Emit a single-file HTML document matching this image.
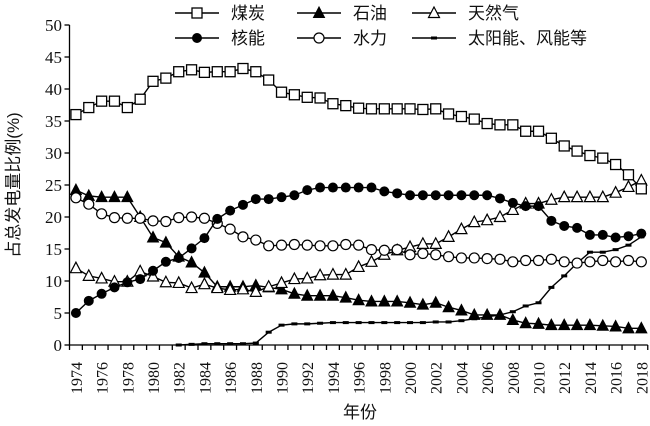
<!DOCTYPE html>
<html><head><meta charset="utf-8"><style>
body{margin:0;background:#fff}
svg{display:block}
</style></head><body>
<svg id="c" width="650" height="426" viewBox="0 0 650 426"></svg>
<script>
const years=[];for(let y=1974;y<=2018;y++)years.push(y);
const coal=[36.0,37.1,38.1,38.1,37.1,38.4,41.2,41.7,42.7,43.0,42.6,42.7,42.7,43.2,42.7,41.4,39.5,39.1,38.7,38.6,37.7,37.4,37.0,36.9,36.9,36.9,36.9,36.8,36.9,36.1,35.7,35.3,34.6,34.4,34.4,33.4,33.4,32.3,31.1,30.3,29.6,29.2,28.2,26.6,24.4];
const oil=[24.2,23.3,23.1,23.1,23.1,20.0,16.8,16.0,13.8,12.9,11.3,9.1,9.1,9.1,9.3,9.0,8.7,8.0,7.7,7.7,7.7,7.4,7.0,6.8,6.8,6.8,6.6,6.3,6.6,5.9,5.4,4.7,4.7,4.7,3.9,3.4,3.3,3.1,3.1,3.1,3.1,3.0,2.9,2.6,2.6];
const gas=[12.0,10.8,10.4,9.9,9.9,11.5,10.7,9.8,9.7,8.9,9.5,8.9,8.6,8.7,8.3,9.1,9.7,10.3,10.4,10.9,11.0,11.0,12.2,13.0,14.1,14.8,15.3,15.8,15.8,16.9,18.1,19.2,19.5,20.0,21.1,22.1,22.1,22.7,23.1,23.1,23.1,23.1,23.8,24.7,25.7];
const nuclear=[5.0,6.9,8.0,9.0,9.8,10.3,11.6,13.0,13.6,15.1,16.7,19.7,21.0,21.9,22.8,22.8,23.1,23.4,24.2,24.6,24.6,24.6,24.6,24.6,24.0,23.7,23.4,23.4,23.4,23.4,23.4,23.4,23.4,22.9,22.2,21.7,21.7,19.4,18.6,18.3,17.2,17.2,16.8,17.0,17.4];
const hydro=[23.0,22.0,20.5,19.9,19.8,19.8,19.4,19.3,19.9,20.0,19.8,19.0,18.1,16.9,16.4,15.5,15.6,15.7,15.6,15.5,15.5,15.7,15.6,14.9,14.8,14.9,14.1,14.3,14.1,13.8,13.6,13.6,13.5,13.4,13.0,13.2,13.2,13.4,13.0,12.8,13.0,13.2,13.0,13.2,13.0];
const solar=[null,null,null,null,null,null,null,null,0.0,0.1,0.2,0.2,0.2,0.2,0.3,2.0,3.1,3.3,3.3,3.4,3.5,3.5,3.5,3.5,3.5,3.5,3.5,3.5,3.6,3.6,3.8,4.1,4.4,4.7,5.2,6.1,6.6,9.0,10.8,12.8,14.5,14.5,14.9,15.6,16.9];
const yTicks=[0,5,10,15,20,25,30,35,40,45,50];
const NS="http://www.w3.org/2000/svg";
const svg=document.getElementById('c');
const SERIF='"Liberation Serif", "Times New Roman", serif';
const CJK='"Liberation Sans", "Noto Sans CJK SC", sans-serif';
const X0=69.5,STEP=12.85,Y0=345,YS=6.4;
const xs=i=>X0+STEP*(i+0.5);
const ys=v=>Y0-v*YS;
function el(t,a,p){const e=document.createElementNS(NS,t);for(const k in a)e.setAttribute(k,a[k]);(p||svg).appendChild(e);return e;}
const ax=el('g',{stroke:'#000','stroke-width':1.3,fill:'none'});


el('line',{x1:X0,y1:ys(50),x2:X0,y2:Y0},ax);
el('line',{x1:X0,y1:Y0,x2:X0+STEP*years.length,y2:Y0},ax);
yTicks.forEach(v=>{
  el('line',{x1:X0-5,y1:ys(v),x2:X0,y2:ys(v)},ax);
  const t=el('text',{x:62,y:ys(v)+6,'text-anchor':'end','font-family':SERIF,'font-size':17,fill:'#111'});
  t.textContent=v;
  
  
});
for(let i=0;i<=years.length;i++)el('line',{x1:X0+STEP*i,y1:Y0,x2:X0+STEP*i,y2:Y0+5},ax);
years.forEach((y,i)=>{
  if(i%2)return;
  const t=el('text',{x:0,y:0,'font-family':SERIF,'font-size':16,fill:'#111','text-anchor':'end',transform:`translate(${xs(i)+6},362) rotate(-90)`});
  t.textContent=y;
  
  
});
const xt=el('text',{x:360,y:418,'text-anchor':'middle','font-family':CJK,'font-size':17,fill:'#111'});xt.textContent='年份';


const yt=el('text',{x:0,y:0,'text-anchor':'middle','font-family':CJK,'font-size':17,fill:'#111',transform:'translate(19,185) rotate(-90)'});yt.textContent='占总发电量比例(%)';


function marker(g,type,x,y){
  if(type==='sq')el('rect',{x:x-5,y:y-5,width:10,height:10,fill:'#fff',stroke:'#000','stroke-width':1.3},g);
  else if(type==='tri')el('polygon',{points:`${x},${y-6} ${x-5.5},${y+4.5} ${x+5.5},${y+4.5}`,fill:'#000',stroke:'#000','stroke-width':1},g);
  else if(type==='otri')el('polygon',{points:`${x},${y-6} ${x-5.5},${y+4.5} ${x+5.5},${y+4.5}`,fill:'#fff',stroke:'#000','stroke-width':1.2},g);
  else if(type==='dot')el('circle',{cx:x,cy:y,r:5,fill:'#000'},g);
  else if(type==='odot')el('circle',{cx:x,cy:y,r:5,fill:'#fff',stroke:'#000','stroke-width':1.2},g);
  else if(type==='dash')el('rect',{x:x-3,y:y-1.5,width:6,height:3,fill:'#000'},g);
}
function series(data,type,name){
  const g=el('g',{});
  
  
  let d='';data.forEach((v,i)=>{if(v==null)return;d+=(d?'L':'M')+xs(i)+','+ys(v);});
  el('path',{d,fill:'none',stroke:'#000','stroke-width':1.4},g);
  data.forEach((v,i)=>{if(v!=null)marker(g,type,xs(i),ys(v));});
}
series(solar,'dash','series-solar-wind');
series(oil,'tri','series-oil');
series(gas,'otri','series-gas');
series(hydro,'odot','series-hydro');
series(nuclear,'dot','series-nuclear');
series(coal,'sq','series-coal');
const legend=[['煤炭','sq',175,13],['石油','tri',297,13],['天然气','otri',412,13],['核能','dot',175,38],['水力','odot',297,38],['太阳能、风能等','dash',412,38]];
legend.forEach(([lab,type,x,y])=>{
  const g=el('g',{});
  
  
  el('line',{x1:x,y1:y,x2:x+44,y2:y,stroke:'#000','stroke-width':1.4},g);
  marker(g,type,x+22,y);
  const t=el('text',{x:x+56,y:y+6,'font-family':CJK,'font-size':17,fill:'#111'},g);t.textContent=lab;
});
</script>
</body></html>
